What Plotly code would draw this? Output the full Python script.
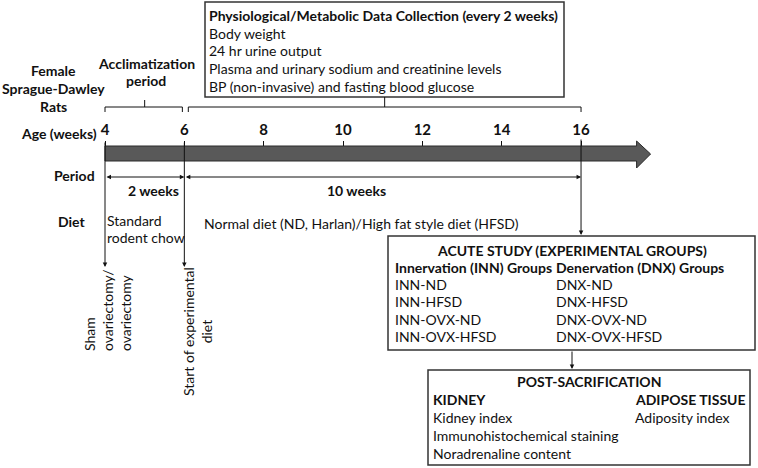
import plotly.graph_objects as go

# ---------------- data (text content & timeline) ----------------
ages = [4, 6, 8, 10, 12, 14, 16]
age_labels = [str(a) for a in ages]
subject_lines = ["Female", "Sprague-Dawley", "Rats"]
acclim_lines = ["Acclimatization", "period"]
collection_title = "Physiological/Metabolic Data Collection (every 2 weeks)"
collection_items = ["Body weight", "24 hr urine output",
                    "Plasma and urinary sodium and creatinine levels",
                    "BP (non-invasive) and fasting blood glucose"]
period_starts = [4, 6]
period_ends = [6, 16]
period_labels = ["2 weeks", "10 weeks"]
chow_lines = ["Standard", "rodent chow"]
diet_text = "Normal diet (ND, Harlan)/High fat style diet (HFSD)"
surgery_text = "Sham<br>ovariectomy/<br>ovariectomy"
diet_start_text = "Start of experimental<br>diet"
acute_title = "ACUTE STUDY (EXPERIMENTAL GROUPS)"
inn_header = "Innervation (INN) Groups"
dnx_header = "Denervation (DNX) Groups"
inn_groups = ["INN-ND", "INN-HFSD", "INN-OVX-ND", "INN-OVX-HFSD"]
dnx_groups = ["DNX-ND", "DNX-HFSD", "DNX-OVX-ND", "DNX-OVX-HFSD"]
post_title = "POST-SACRIFICATION"
kidney_header = "KIDNEY"
kidney_items = ["Kidney index", "Immunohistochemical staining", "Noradrenaline content"]
adipose_header = "ADIPOSE TISSUE"
adipose_items = ["Adiposity index"]

# ---------------- layout constants ----------------
W, H = 758, 468
PX_PER_WEEK = 39.67
X_WEEK4 = 105
FONT = "Lato"
FS = 14
INK = "#111111"
BOX = "#333333"

fig = go.Figure()

# invisible trace anchoring the week axis
fig.add_trace(go.Scatter(x=ages, y=[146] * len(ages), xaxis="x2", yaxis="y",
                         mode="markers", marker=dict(opacity=0), hoverinfo="skip",
                         showlegend=False))

def txt(x, y, s, bold=False, xanchor="left", xref="x", angle=0, align="left", size=FS):
    fig.add_annotation(x=x, y=y, xref=xref, yref="y", text=("<b>%s</b>" % s) if bold else s,
                       showarrow=False, xanchor=xanchor, yanchor="middle",
                       textangle=angle, align=align,
                       font=dict(family=FONT, size=size, color=INK))

def arrow(x0, y0, x1, y1, xref="x", both=False):
    fig.add_annotation(x=x1, y=y1, ax=x0, ay=y0, xref=xref, axref=xref, yref="y", ayref="y",
                       text="", showarrow=True, arrowhead=2, arrowsize=0.9, arrowwidth=1,
                       arrowcolor=INK, standoff=0, startstandoff=0,
                       arrowside="end+start" if both else "end", startarrowhead=2,
                       startarrowsize=0.9)

def rect(x0, y0, x1, y1):
    fig.add_shape(type="rect", x0=x0, y0=y0, x1=x1, y1=y1, xref="x", yref="y",
                  line=dict(color=BOX, width=1.5), fillcolor="rgba(0,0,0,0)")

# ---------------- left labels ----------------
for i, s in enumerate(subject_lines):
    txt(53, 70 + 18 * i, s, bold=True, xanchor="center")
for i, s in enumerate(acclim_lines):
    txt(146, 63 + 17 * i, s, bold=True, xanchor="center")
txt(99, 133, "Age (weeks)", bold=True, xanchor="right")
txt(74, 175, "Period", bold=True, xanchor="center")
txt(71, 221, "Diet", bold=True, xanchor="center")

# ---------------- top data collection box ----------------
rect(205, 2, 564, 97)
txt(207, 15, collection_title, bold=True)
for i, s in enumerate(collection_items):
    txt(207, 33 + 17.7 * i, s)

# braces
fig.add_shape(type="path", xref="x2", yref="y",
              path="M 4,112 L 4,107 L 5.95,107 L 5.95,112 M 5,107 L 5,100",
              line=dict(color=INK, width=1))
fig.add_shape(type="path", xref="x2", yref="y",
              path="M 6.1,112 L 6.1,107 L 16,107 L 16,112 M 11.05,107 L 11.05,97",
              line=dict(color=INK, width=1))

# ---------------- timeline arrow ----------------
xe = X_WEEK4 + PX_PER_WEEK * 13.4
xt = xe + 14
fig.add_shape(type="path", xref="x", yref="y",
              path=f"M {X_WEEK4},146 L {xe},146 L {xe},141 L {xt},154 L {xe},168 L {xe},161 L {X_WEEK4},161 Z",
              fillcolor="#595959", line=dict(color="#2a2a2a", width=1))

# vertical event lines
arrow(4, 141, 4, 267, xref="x2")
arrow(6, 141, 6, 267, xref="x2")
arrow(16, 138, 16, 235, xref="x2")

# period arrows
for a, b in zip(period_starts, period_ends):
    arrow(a, 177, b, 177, xref="x2", both=True)
txt(153, 190, period_labels[0], bold=True, xanchor="center")
txt(356, 190, period_labels[1], bold=True, xanchor="center")

# diet
for i, s in enumerate(chow_lines):
    txt(105, 220 + 17 * i, s)
txt(202, 223, diet_text)

# rotated annotations
txt(107, 310, surgery_text, xanchor="center", angle=-90, align="left")
txt(197, 332, diet_start_text, xanchor="center", angle=-90, align="center")

# ---------------- acute study box ----------------
rect(388, 236, 755, 350)
txt(572, 250, acute_title, bold=True, xanchor="center")
txt(393, 267, inn_header, bold=True)
txt(554, 267, dnx_header, bold=True)
for i, (a, b) in enumerate(zip(inn_groups, dnx_groups)):
    txt(393, 284.5 + 17.3 * i, a)
    txt(554, 284.5 + 17.3 * i, b)

arrow(572, 350, 572, 369)

# ---------------- post-sacrification box ----------------
rect(428, 370, 750, 465)
txt(589, 381, post_title, bold=True, xanchor="center")
txt(431, 399, kidney_header, bold=True)
for i, s in enumerate(kidney_items):
    txt(431, 417 + 18 * i, s)
txt(633, 399, adipose_header, bold=True)
for i, s in enumerate(adipose_items):
    txt(633, 417 + 18 * i, s)

# ---------------- axes ----------------
fig.update_layout(
    width=W, height=H, margin=dict(l=0, r=0, t=0, b=0),
    paper_bgcolor="white", plot_bgcolor="white", showlegend=False,
    xaxis=dict(range=[0, W], visible=False, fixedrange=True),
    yaxis=dict(range=[H, 0], visible=False, fixedrange=True),
    xaxis2=dict(overlaying="x", anchor="free", position=1 - 146 / H, side="top",
                range=[4 - X_WEEK4 / PX_PER_WEEK, 4 + (W - X_WEEK4) / PX_PER_WEEK],
                tickmode="array", tickvals=ages, ticktext=age_labels,
                ticks="outside", ticklen=5, tickwidth=1, tickcolor=INK,
                showline=False, showgrid=False, zeroline=False, fixedrange=True,
                tickfont=dict(family=FONT, size=FS + 1, color=INK, weight="bold")),
)

fig.write_html("out.html", post_script="document.body.style.margin='0';",
               config={"displayModeBar": False})
